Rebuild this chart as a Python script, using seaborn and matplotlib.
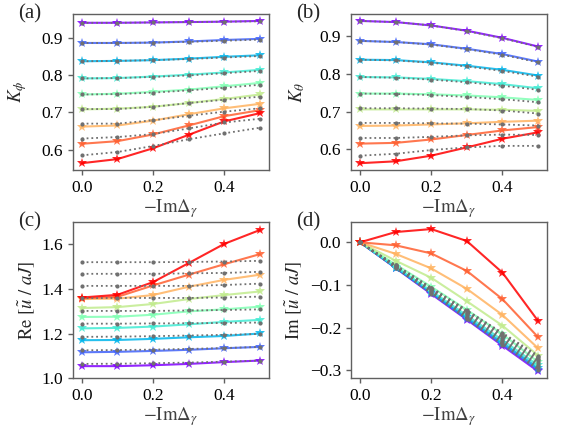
import numpy as np
import pandas as pd
import matplotlib
matplotlib.use("Agg")
import matplotlib.pyplot as plt
import seaborn as sns

# x axis: -Im Delta_gamma
x_vals = [0.0, 0.1, 0.2, 0.3, 0.4, 0.5]

# curves ordered purple -> red
k_phi = [
    [0.940, 0.940, 0.941, 0.942, 0.943, 0.945],
    [0.886, 0.886, 0.887, 0.890, 0.894, 0.897],
    [0.837, 0.838, 0.840, 0.844, 0.849, 0.853],
    [0.791, 0.792, 0.796, 0.801, 0.807, 0.814],
    [0.748, 0.750, 0.755, 0.761, 0.770, 0.779],
    [0.708, 0.710, 0.715, 0.725, 0.736, 0.748],
    [0.662, 0.665, 0.678, 0.695, 0.711, 0.723],
    [0.616, 0.623, 0.641, 0.665, 0.690, 0.706],
    [0.564, 0.575, 0.604, 0.640, 0.676, 0.698],
]
k_phi_ref = [
    [0.940, 0.940, 0.941, 0.942, 0.943, 0.944],
    [0.886, 0.886, 0.887, 0.889, 0.892, 0.895],
    [0.837, 0.838, 0.840, 0.843, 0.847, 0.851],
    [0.791, 0.792, 0.795, 0.799, 0.805, 0.811],
    [0.748, 0.749, 0.753, 0.759, 0.766, 0.774],
    [0.709, 0.709, 0.715, 0.725, 0.734, 0.742],
    [0.670, 0.670, 0.679, 0.691, 0.702, 0.711],
    [0.630, 0.634, 0.642, 0.657, 0.673, 0.683],
    [0.585, 0.594, 0.610, 0.628, 0.644, 0.659],
]

k_theta = [
    [0.941, 0.938, 0.929, 0.915, 0.896, 0.873],
    [0.888, 0.885, 0.879, 0.867, 0.853, 0.833],
    [0.838, 0.837, 0.831, 0.822, 0.811, 0.796],
    [0.792, 0.791, 0.787, 0.781, 0.773, 0.762],
    [0.748, 0.748, 0.746, 0.743, 0.738, 0.731],
    [0.706, 0.706, 0.706, 0.706, 0.705, 0.702],
    [0.662, 0.663, 0.666, 0.669, 0.673, 0.676],
    [0.615, 0.617, 0.626, 0.638, 0.650, 0.659],
    [0.563, 0.568, 0.583, 0.605, 0.628, 0.645],
]
k_theta_ref = [
    [0.941, 0.938, 0.929, 0.914, 0.895, 0.872],
    [0.888, 0.885, 0.878, 0.866, 0.851, 0.831],
    [0.838, 0.836, 0.830, 0.820, 0.808, 0.793],
    [0.792, 0.790, 0.785, 0.778, 0.769, 0.758],
    [0.748, 0.747, 0.744, 0.739, 0.733, 0.725],
    [0.709, 0.709, 0.708, 0.707, 0.703, 0.695],
    [0.670, 0.670, 0.669, 0.668, 0.666, 0.663],
    [0.630, 0.630, 0.633, 0.637, 0.639, 0.638],
    [0.583, 0.588, 0.598, 0.605, 0.609, 0.609],
]

re_u = [
    [1.055, 1.055, 1.059, 1.065, 1.073, 1.080],
    [1.117, 1.119, 1.123, 1.128, 1.135, 1.141],
    [1.171, 1.172, 1.177, 1.184, 1.190, 1.201],
    [1.224, 1.226, 1.232, 1.242, 1.253, 1.262],
    [1.275, 1.276, 1.285, 1.300, 1.309, 1.321],
    [1.315, 1.319, 1.333, 1.355, 1.373, 1.389],
    [1.355, 1.357, 1.373, 1.410, 1.441, 1.464],
    [1.358, 1.365, 1.416, 1.464, 1.511, 1.556],
    [1.362, 1.374, 1.431, 1.516, 1.602, 1.664],
]
re_u_ref = [
    [1.065, 1.066, 1.068, 1.071, 1.075, 1.080],
    [1.126, 1.127, 1.129, 1.132, 1.136, 1.141],
    [1.186, 1.187, 1.189, 1.192, 1.195, 1.199],
    [1.245, 1.245, 1.246, 1.247, 1.248, 1.250],
    [1.302, 1.302, 1.302, 1.304, 1.306, 1.309],
    [1.359, 1.360, 1.360, 1.360, 1.362, 1.366],
    [1.414, 1.414, 1.414, 1.414, 1.418, 1.424],
    [1.468, 1.468, 1.468, 1.470, 1.472, 1.477],
    [1.520, 1.520, 1.520, 1.521, 1.523, 1.526],
]

im_u = [
    [0.0, -0.060, -0.121, -0.181, -0.242, -0.302],
    [0.0, -0.060, -0.119, -0.179, -0.239, -0.298],
    [0.0, -0.059, -0.117, -0.176, -0.235, -0.294],
    [0.0, -0.057, -0.114, -0.171, -0.229, -0.288],
    [0.0, -0.052, -0.104, -0.158, -0.215, -0.280],
    [0.0, -0.043, -0.083, -0.138, -0.195, -0.265],
    [0.0, -0.027, -0.061, -0.109, -0.170, -0.248],
    [0.0, -0.007, -0.026, -0.067, -0.133, -0.222],
    [0.0, 0.024, 0.031, 0.003, -0.071, -0.184],
]
im_u_ref = [
    [0.0, -0.060, -0.120, -0.180, -0.240, -0.299],
    [0.0, -0.059, -0.118, -0.177, -0.236, -0.295],
    [0.0, -0.058, -0.116, -0.174, -0.232, -0.290],
    [0.0, -0.057, -0.114, -0.171, -0.228, -0.285],
    [0.0, -0.056, -0.112, -0.168, -0.224, -0.280],
    [0.0, -0.055, -0.110, -0.165, -0.220, -0.276],
    [0.0, -0.054, -0.108, -0.162, -0.217, -0.272],
    [0.0, -0.054, -0.107, -0.160, -0.214, -0.268],
    [0.0, -0.053, -0.106, -0.159, -0.212, -0.265],
]

panel_labels = ["(a)", "(b)", "(c)", "(d)"]
y_labels = [r"$K_\phi$", r"$K_\theta$",
            r"$\mathrm{Re}\ [\tilde{u}\ /\ aJ]$", r"$\mathrm{Im}\ [\tilde{u}\ /\ aJ]$"]
x_label = r"$-\mathrm{Im}\Delta_\gamma$"
y_ticks = [[0.6, 0.7, 0.8, 0.9], [0.6, 0.7, 0.8, 0.9],
           [1.0, 1.2, 1.4, 1.6], [0.0, -0.1, -0.2, -0.3]]


def to_long(curves):
    rows = []
    for i, ys in enumerate(curves):
        for x, y in zip(x_vals, ys):
            rows.append({"x": x, "y": y, "curve": i})
    return pd.DataFrame(rows)


sns.set_style("ticks")
plt.rcParams["font.family"] = ["Liberation Serif", "DejaVu Serif"]
plt.rcParams["mathtext.fontset"] = "stix"
plt.rcParams["axes.edgecolor"] = "#606060"
plt.rcParams["xtick.color"] = "#606060"
plt.rcParams["ytick.color"] = "#606060"
plt.rcParams["xtick.labelcolor"] = "black"
plt.rcParams["ytick.labelcolor"] = "black"

colors = [tuple(c) for c in plt.get_cmap("rainbow")(np.linspace(0, 1, 9))]

fig, axes = plt.subplots(2, 2, figsize=(5.61, 4.32), dpi=100)
fig.subplots_adjust(left=0.13, right=0.975, top=0.968, bottom=0.124,
                    wspace=0.42, hspace=0.33)

datasets = [(k_phi, k_phi_ref), (k_theta, k_theta_ref),
            (re_u, re_u_ref), (im_u, im_u_ref)]
label_pads = [9, 9, 3, 4]

for k, ax in enumerate(axes.flat):
    main, ref = datasets[k]
    sns.lineplot(data=to_long(main), x="x", y="y", hue="curve",
                 palette=colors, marker="*", markersize=7,
                 markeredgewidth=0, linewidth=1.5, alpha=0.85,
                 legend=False, ax=ax)
    sns.lineplot(data=to_long(ref), x="x", y="y", units="curve",
                 estimator=None, color="#707070", linestyle=":",
                 marker="o", markersize=3, markeredgewidth=0,
                 linewidth=1.3, legend=False, ax=ax)
    ax.set_xticks([0.0, 0.2, 0.4])
    ax.set_yticks(y_ticks[k])
    if k == 2:
        ax.set_ylim(1.0, 1.7)
    ax.tick_params(labelsize=12.5, length=3.5, width=1)
    ax.set_xlabel(x_label, fontsize=13.5, labelpad=1, color="#404040")
    ax.set_ylabel(y_labels[k], fontsize=13.5, labelpad=label_pads[k])
    for sp in ax.spines.values():
        sp.set_linewidth(1.0)
    ax.text(-0.28, 1.0, panel_labels[k], transform=ax.transAxes,
            fontsize=15, va="center", ha="left")

fig.savefig("out.png", dpi=100)
